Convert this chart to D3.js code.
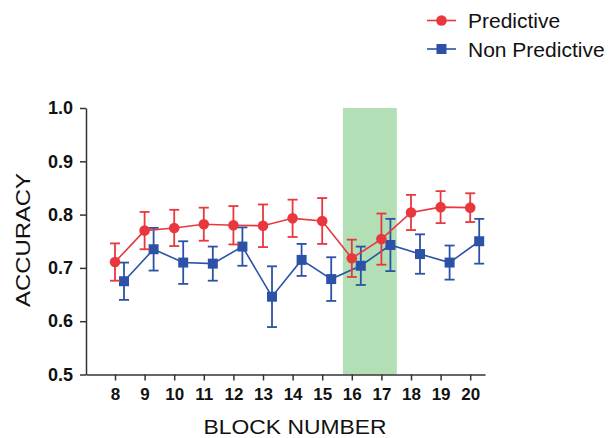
<!DOCTYPE html>
<html>
<head>
<meta charset="utf-8">
<script src="https://cdn.jsdelivr.net/npm/d3@7"></script>
<style>
  body { margin: 0; background: #fff; }
  text { font-family: "Liberation Sans", Arial, sans-serif; }
</style>
</head>
<body>
<script>
var width = 611, height = 438;

// data
var blocks = [8, 9, 10, 11, 12, 13, 14, 15, 16, 17, 18, 19, 20];
var predMean = [0.711, 0.770, 0.775, 0.782, 0.780, 0.779, 0.793, 0.788, 0.718, 0.754, 0.804, 0.814, 0.813];
var predErr  = [0.035, 0.035, 0.034, 0.031, 0.036, 0.040, 0.035, 0.043, 0.035, 0.048, 0.033, 0.030, 0.027];
var nonMean  = [0.675, 0.735, 0.710, 0.708, 0.740, 0.646, 0.715, 0.679, 0.704, 0.743, 0.726, 0.710, 0.750];
var nonErr   = [0.035, 0.040, 0.040, 0.032, 0.036, 0.057, 0.030, 0.041, 0.036, 0.049, 0.037, 0.032, 0.042];
var yTicks = [0.5, 0.6, 0.7, 0.8, 0.9, 1.0];
var shadeRange = [15.7, 17.52];
var seriesNames = ["Predictive", "Non Predictive"];

var red = "#e8383d", blue = "#2c52a8", axisCol = "#333";

var svg = d3.select("body").append("svg")
    .attr("width", width)
    .attr("height", height);

var x = d3.scaleLinear().domain([7.02, 20.5]).range([86, 485]);
var y = d3.scaleLinear().domain([0.5, 1.0]).range([374.5, 108]);

// green shaded band
svg.append("rect")
  .attr("x", x(shadeRange[0]))
  .attr("width", x(shadeRange[1]) - x(shadeRange[0]))
  .attr("y", y(1.0))
  .attr("height", y(0.5) - y(1.0))
  .attr("fill", "#b2dfb6");

// axes
var yAxis = svg.append("g")
  .attr("transform", "translate(" + x.range()[0] + ",0)")
  .call(d3.axisLeft(y).tickValues(yTicks).tickFormat(d3.format(".1f")).tickSize(6).tickSizeOuter(0));
yAxis.select(".domain").attr("stroke", axisCol).attr("stroke-width", 1.5);
yAxis.selectAll(".tick line").attr("stroke", axisCol).attr("stroke-width", 1.5);
yAxis.selectAll(".tick text")
  .attr("x", -13)
  .attr("fill", "#111")
  .style("font-size", "18px")
  .style("font-weight", "bold")
  .style("font-family", "'Liberation Sans', Arial, sans-serif");

var xAxis = svg.append("g")
  .attr("transform", "translate(0," + y(0.5) + ")")
  .call(d3.axisBottom(x).tickValues(blocks).tickFormat(d3.format("d")).tickSize(6).tickSizeOuter(0));
xAxis.select(".domain").attr("stroke", axisCol).attr("stroke-width", 1.5);
xAxis.selectAll(".tick line").attr("stroke", axisCol).attr("stroke-width", 1.5);
xAxis.selectAll(".tick text")
  .attr("y", 13)
  .attr("fill", "#111")
  .style("font-size", "17px")
  .style("font-weight", "bold")
  .style("font-family", "'Liberation Sans', Arial, sans-serif");

// axis titles
svg.append("text")
  .attr("x", 295).attr("y", 434)
  .attr("text-anchor", "middle")
  .attr("textLength", 183).attr("lengthAdjust", "spacingAndGlyphs")
  .style("font-size", "21px").attr("fill", "#111")
  .text("BLOCK NUMBER");

svg.append("text")
  .attr("transform", "translate(30,240) rotate(-90)")
  .attr("text-anchor", "middle")
  .attr("textLength", 134).attr("lengthAdjust", "spacingAndGlyphs")
  .style("font-size", "21px").attr("fill", "#111")
  .text("ACCURACY");

function drawSeries(means, errs, color, dx, shape) {
  var pts = blocks.map(function(b, i) { return {b: b, m: means[i], e: errs[i]}; });
  var g = svg.append("g");
  var line = d3.line()
    .x(function(d) { return x(d.b) + dx; })
    .y(function(d) { return y(d.m); });
  g.append("path")
    .datum(pts)
    .attr("d", line)
    .attr("fill", "none")
    .attr("stroke", color)
    .attr("stroke-width", 1.6);

  var eb = g.selectAll(".eb").data(pts).enter().append("g");
  eb.append("line")
    .attr("x1", function(d) { return x(d.b) + dx; })
    .attr("x2", function(d) { return x(d.b) + dx; })
    .attr("y1", function(d) { return y(d.m + d.e); })
    .attr("y2", function(d) { return y(d.m - d.e); })
    .attr("stroke", color).attr("stroke-width", 1.8);
  [1, -1].forEach(function(s) {
    eb.append("line")
      .attr("x1", function(d) { return x(d.b) + dx - 5; })
      .attr("x2", function(d) { return x(d.b) + dx + 5; })
      .attr("y1", function(d) { return y(d.m + s * d.e); })
      .attr("y2", function(d) { return y(d.m + s * d.e); })
      .attr("stroke", color).attr("stroke-width", 1.8);
  });

  if (shape == "circle") {
    g.selectAll(".pt").data(pts).enter().append("circle")
      .attr("cx", function(d) { return x(d.b) + dx; })
      .attr("cy", function(d) { return y(d.m); })
      .attr("r", 5.3)
      .attr("fill", color);
  } else {
    g.selectAll(".pt").data(pts).enter().append("rect")
      .attr("x", function(d) { return x(d.b) + dx - 5; })
      .attr("y", function(d) { return y(d.m) - 5; })
      .attr("width", 10).attr("height", 10)
      .attr("fill", color);
  }
}

drawSeries(nonMean, nonErr, blue, 9, "square");
drawSeries(predMean, predErr, red, 0, "circle");

// legend
var legend = svg.append("g");
var legY = [20.5, 49];
seriesNames.forEach(function(name, i) {
  var c = i == 0 ? red : blue;
  legend.append("line")
    .attr("x1", 427).attr("x2", 456)
    .attr("y1", legY[i]).attr("y2", legY[i])
    .attr("stroke", c).attr("stroke-width", 1.6);
  if (i == 0) {
    legend.append("circle").attr("cx", 441.5).attr("cy", legY[i]).attr("r", 5.3).attr("fill", c);
  } else {
    legend.append("rect").attr("x", 436.5).attr("y", legY[i] - 5).attr("width", 10).attr("height", 10).attr("fill", c);
  }
  legend.append("text")
    .attr("x", 468).attr("y", legY[i] + 7.5)
    .style("font-size", "21px").attr("fill", "#111")
    .text(name);
});
</script>
</body>
</html>
